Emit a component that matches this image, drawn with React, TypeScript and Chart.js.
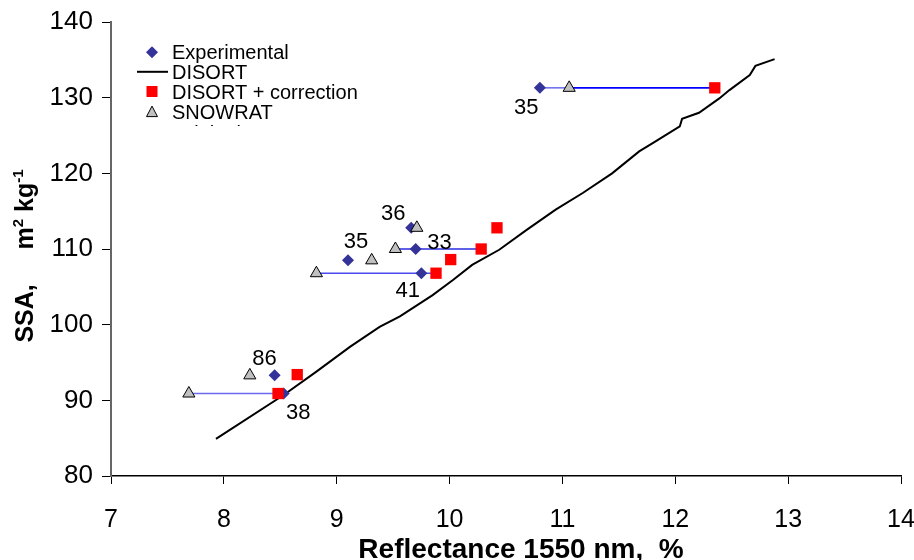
import React, { useEffect, useRef } from "react";
import { Chart, registerables } from "chart.js";

Chart.register(...registerables);

const FONT = "'Liberation Sans', Arial, Helvetica, sans-serif";

// Experimental (blue diamonds)
const expX = [10.8, 9.66, 9.7, 9.1, 9.75, 8.45, 8.53];
const expY = [131.3, 112.8, 110.0, 108.5, 106.8, 93.3, 90.9];

// SNOWRAT (grey triangles)
const snowX = [11.06, 9.71, 9.52, 9.31, 8.82, 8.23, 7.69];
const snowY = [131.3, 112.8, 110.0, 108.5, 106.8, 93.3, 90.9];

// DISORT + correction (red squares)
const corrX = [12.35, 10.42, 10.28, 10.01, 9.88, 8.65, 8.48];
const corrY = [131.3, 112.8, 110.0, 108.6, 106.8, 93.4, 90.9];

// DISORT curve
const disortX = [7.93, 8.53, 8.82, 9.12, 9.38, 9.56, 9.85, 10.03, 10.2, 10.44, 10.68, 10.94, 11.18, 11.44, 11.68, 11.8, 12.04, 12.06, 12.21, 12.39, 12.48, 12.66, 12.71, 12.88];
const disortY = [84.9, 90.7, 93.8, 97.1, 99.7, 101.1, 103.9, 105.9, 107.9, 109.9, 112.5, 115.2, 117.4, 120.0, 122.9, 124.0, 126.2, 127.2, 128.0, 129.9, 131.0, 133.0, 134.2, 135.1];

// Horizontal connectors
const connY = [131.3, 131.3, 110.0, 106.8, 90.9];
const connFromX = [10.8, 11.06, 9.52, 8.82, 7.69];
const connToX = [11.06, 12.35, 10.28, 9.88, 8.53];
const connColors = ["#7272ee", "#0000ff", "#2a2ae0", "#4a4af0", "#6a6af0"];

// Point annotations
const labelText = ["35", "36", "35", "33", "41", "86", "38"];
const labelX = [10.68, 9.5, 9.17, 9.91, 9.63, 8.36, 8.66];
const labelY = [128.6, 114.6, 110.9, 110.85, 104.5, 95.5, 88.4];

// Axes
const xTicksMin = 7, xTicksMax = 14, xStep = 1;
const yTicksMin = 80, yTicksMax = 140, yStep = 10;
const xTitle = "Reflectance 1550 nm,  %";
const legendLabels = ["Experimental", "DISORT", "DISORT + correction", "SNOWRAT", "Original"];

const toPts = (xs: number[], ys: number[]) => xs.map((x, i) => ({ x, y: ys[i] }));

const annotationPlugin = {
  id: "annotations",
  afterDatasetsDraw(chart: any) {
    const { ctx, scales } = chart;
    ctx.save();
    ctx.fillStyle = "#000";
    ctx.font = `22px ${FONT}`;
    ctx.textAlign = "center";
    ctx.textBaseline = "middle";
    labelText.forEach((t, i) => {
      ctx.fillText(t, scales.x.getPixelForValue(labelX[i]), scales.y.getPixelForValue(labelY[i]));
    });
    ctx.restore();
  },
};

const titlesPlugin = {
  id: "titles",
  afterDraw(chart: any) {
    const { ctx } = chart;
    ctx.save();
    ctx.fillStyle = "#000";
    ctx.font = `bold 28px ${FONT}`;
    ctx.textAlign = "center";
    ctx.textBaseline = "alphabetic";
    ctx.fillText(xTitle, 521, 558);

    ctx.translate(33, 256);
    ctx.rotate(-Math.PI / 2);
    const big = `bold 25px ${FONT}`;
    const small = `bold 15px ${FONT}`;
    const pieces = [
      { t: "SSA,     m", f: big, dy: 0 },
      { t: "2", f: small, dy: -10 },
      { t: " kg", f: big, dy: 0 },
      { t: "-1", f: small, dy: -10 },
    ];
    let total = 0;
    pieces.forEach((p) => {
      ctx.font = p.f;
      total += ctx.measureText(p.t).width;
    });
    let x = -total / 2;
    ctx.textAlign = "left";
    pieces.forEach((p) => {
      ctx.font = p.f;
      ctx.fillText(p.t, x, p.dy);
      x += ctx.measureText(p.t).width;
    });
    ctx.restore();
  },
};

const legendPlugin = {
  id: "customLegend",
  afterDraw(chart: any) {
    const { ctx } = chart;
    ctx.save();
    ctx.beginPath();
    ctx.rect(120, 30, 300, 96);
    ctx.clip();
    const sx = 152;
    const tx = 172;
    const baselines = [59.3, 78.8, 98.5, 118.6, 139.6];
    const centers = baselines.map((b) => b - 7);
    // diamond
    ctx.fillStyle = "#333399";
    ctx.beginPath();
    ctx.moveTo(sx, centers[0] - 6);
    ctx.lineTo(sx + 6, centers[0]);
    ctx.lineTo(sx, centers[0] + 6);
    ctx.lineTo(sx - 6, centers[0]);
    ctx.closePath();
    ctx.fill();
    // line
    ctx.strokeStyle = "#000";
    ctx.lineWidth = 2;
    ctx.beginPath();
    ctx.moveTo(137, centers[1]);
    ctx.lineTo(168, centers[1]);
    ctx.stroke();
    // square
    ctx.fillStyle = "#ff0000";
    ctx.fillRect(sx - 5.5, centers[2] - 5.5, 11, 11);
    // triangle
    ctx.fillStyle = "#c0c0c0";
    ctx.strokeStyle = "#000";
    ctx.lineWidth = 1;
    ctx.beginPath();
    ctx.moveTo(sx, centers[3] - 5.5);
    ctx.lineTo(sx + 5.5, centers[3] + 5);
    ctx.lineTo(sx - 5.5, centers[3] + 5);
    ctx.closePath();
    ctx.fill();
    ctx.stroke();
    // texts
    ctx.fillStyle = "#000";
    ctx.font = `20px ${FONT}`;
    ctx.textAlign = "left";
    ctx.textBaseline = "alphabetic";
    legendLabels.forEach((t, i) => ctx.fillText(t, tx, baselines[i]));
    ctx.restore();
  },
};

export default function App() {
  const ref = useRef<HTMLCanvasElement | null>(null);

  useEffect(() => {
    if (!ref.current) return;
    const connectorSets = connY.map((y, i) => ({
      label: `conn${i}`,
      data: [
        { x: connFromX[i], y },
        { x: connToX[i], y },
      ],
      showLine: true,
      borderColor: connColors[i],
      borderWidth: 1.6,
      pointRadius: 0,
      order: 5,
    }));
    const chart = new Chart(ref.current, {
      type: "scatter",
      data: {
        datasets: [
          {
            label: "DISORT + correction",
            data: toPts(corrX, corrY),
            pointStyle: "rect",
            pointRadius: 8,
            backgroundColor: "#ff0000",
            borderColor: "#ff0000",
            borderWidth: 0,
            order: 0,
          },
          {
            label: "SNOWRAT",
            data: toPts(snowX, snowY),
            pointStyle: "triangle",
            pointRadius: 7,
            backgroundColor: "#c0c0c0",
            borderColor: "#000",
            borderWidth: 1,
            order: 1,
          },
          {
            label: "Experimental",
            data: toPts(expX, expY),
            pointStyle: "rectRot",
            pointRadius: 6,
            backgroundColor: "#333399",
            borderColor: "#333399",
            borderWidth: 0,
            order: 2,
          },
          {
            label: "DISORT",
            data: toPts(disortX, disortY),
            showLine: true,
            borderColor: "#000",
            borderWidth: 2,
            pointRadius: 0,
            tension: 0,
            order: 3,
          },
          ...connectorSets,
        ],
      } as any,
      options: {
        responsive: false,
        animation: false,
        devicePixelRatio: 1,
        layout: { padding: { top: 22, right: 13, left: 0, bottom: 0 } },
        plugins: {
          legend: { display: false },
          tooltip: { enabled: false },
        },
        scales: {
          x: {
            type: "linear",
            min: xTicksMin,
            max: xTicksMax,
            ticks: {
              stepSize: xStep,
              color: "#000",
              font: { size: 25, family: FONT },
              padding: 21,
              maxRotation: 0,
            },
            grid: { drawOnChartArea: false, tickLength: 8, color: "#000" },
            border: { display: true, color: "#000", width: 1.5 },
            afterFit: (s: any) => {
              s.height = 84;
              s.paddingLeft = 0;
              s.paddingRight = 0;
            },
          },
          y: {
            type: "linear",
            min: yTicksMin,
            max: yTicksMax,
            ticks: {
              stepSize: yStep,
              color: "#000",
              font: { size: 26, family: FONT },
              padding: 9,
            },
            grid: { drawOnChartArea: false, tickLength: 9, color: "#000" },
            border: { display: true, color: "#666", width: 2 },
            afterFit: (s: any) => {
              s.width = 111;
              s.paddingTop = 0;
              s.paddingBottom = 0;
            },
          },
        },
      } as any,
      plugins: [annotationPlugin, titlesPlugin, legendPlugin],
    });
    return () => chart.destroy();
  }, []);

  return (
    <div style={{ position: "absolute", left: 0, top: 0, width: 914, height: 560, background: "#fff" }}>
      <canvas ref={ref} width={914} height={560} style={{ width: 914, height: 560, display: "block" }} />
    </div>
  );
}
